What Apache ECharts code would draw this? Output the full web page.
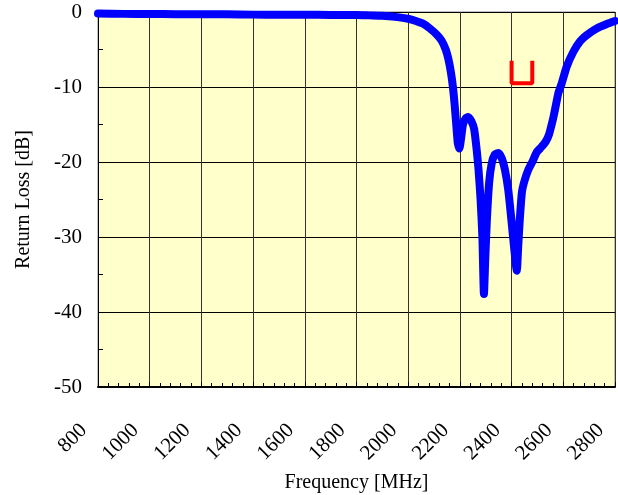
<!DOCTYPE html>
<html>
<head>
<meta charset="utf-8">
<script src="https://cdn.jsdelivr.net/npm/echarts@6/dist/echarts.min.js"></script>
<style>
html,body{margin:0;padding:0;background:#fff;}
#c{width:618px;height:495px;}
</style>
</head>
<body>
<div id="c"></div>
<script>
const freqMHz = [800, 900, 1000, 1100, 1200, 1300, 1400, 1500, 1600, 1700, 1800, 1850, 1900, 1950, 2000, 2030, 2060, 2084, 2110, 2129, 2145, 2155, 2165, 2173, 2180, 2187, 2192, 2198, 2204, 2212, 2222, 2232, 2245, 2255, 2265, 2272, 2280, 2287, 2293, 2298, 2304, 2313, 2323, 2335, 2349, 2362, 2374, 2387, 2400, 2410, 2420, 2426, 2432, 2440, 2450, 2465, 2480, 2497, 2510, 2523, 2535, 2545, 2555, 2562, 2572, 2581, 2594, 2613, 2639, 2665, 2690, 2729, 2768, 2800];
const returnLoss = [-0.2, -0.25, -0.25, -0.3, -0.3, -0.3, -0.35, -0.35, -0.35, -0.4, -0.4, -0.45, -0.5, -0.65, -0.9, -1.2, -1.6, -2.2, -3, -3.8, -5, -6.2, -8, -10, -12.5, -15.5, -17.5, -18.2, -17, -15, -14.2, -14, -14.6, -15.6, -18.4, -21, -25, -30, -37.6, -33, -28, -22.8, -20.2, -19, -18.8, -19.5, -21, -23.7, -28, -31.5, -34.5, -31, -27.5, -24, -22.5, -21, -20, -18.7, -18.2, -17.7, -17.1, -16.3, -15, -14, -12.3, -10.8, -9.5, -7.3, -5.3, -3.9, -3.1, -2.2, -1.6, -1.2];
const maskFreq = [2400, 2400, 2480, 2480];
const maskLevel = [-6.5, -9.5, -9.5, -6.5];
const xTicks = [800, 1000, 1200, 1400, 1600, 1800, 2000, 2200, 2400, 2600, 2800];
const yTicks = [0, -10, -20, -30, -40, -50];

const chart = echarts.init(document.getElementById('c'), null, {renderer: 'canvas'});
const font = '"Liberation Serif", "Times New Roman", serif';
chart.setOption({
  animation: false,
  grid: {left: 98, right: 3, top: 12, bottom: 108, outerBoundsMode: 'none', containLabel: false,
    show: true, backgroundColor: '#FFFFCC', borderColor: '#808080', borderWidth: 1},
  xAxis: {
    type: 'value', min: 800, max: 2800, interval: 200,
    name: 'Frequency [MHz]', nameLocation: 'middle', nameGap: 86,
    nameTextStyle: {fontFamily: font, fontSize: 20, color: '#000'},
    axisLine: {show: true, onZero: false, lineStyle: {color: '#000', width: 2}},
    axisTick: {show: true, inside: true, length: 5, lineStyle: {color: '#000'}},
    minorTick: {show: true, splitNumber: 5, length: 4, lineStyle: {color: '#000'}},
    splitLine: {show: true, lineStyle: {color: '#333', width: 1}},
    axisLabel: {rotate: 45, margin: 26, padding: [0, 20, 0, 0], fontFamily: font, fontSize: 21, color: '#000',
      formatter: v => xTicks.includes(v) ? String(v) : ''}
  },
  yAxis: {
    type: 'value', min: -50, max: 0, interval: 10,
    name: 'Return Loss [dB]', nameLocation: 'middle', nameGap: 64,
    nameTextStyle: {fontFamily: font, fontSize: 20, color: '#000'},
    axisLine: {show: true, onZero: false, lineStyle: {color: '#000', width: 1}},
    axisTick: {show: true, inside: true, length: 5, lineStyle: {color: '#000'}},
    minorTick: {show: true, splitNumber: 2, length: 5, lineStyle: {color: '#000'}},
    splitLine: {show: true, lineStyle: {color: '#000', width: 1}},
    axisLabel: {margin: 16, fontFamily: font, fontSize: 21, color: '#000',
      formatter: v => yTicks.includes(v) ? String(v) : ''}
  },
  series: [
    {
      type: 'line', data: freqMHz.map((f, i) => [f, returnLoss[i]]),
      showSymbol: false, smooth: 0.2, clip: false,
      lineStyle: {color: '#0000FF', width: 8, cap: 'round', join: 'round'}
    },
    {
      type: 'line', data: maskFreq.map((f, i) => [f, maskLevel[i]]),
      showSymbol: false, smooth: false,
      lineStyle: {color: '#FF0000', width: 4}
    }
  ]
});
</script>
</body>
</html>
